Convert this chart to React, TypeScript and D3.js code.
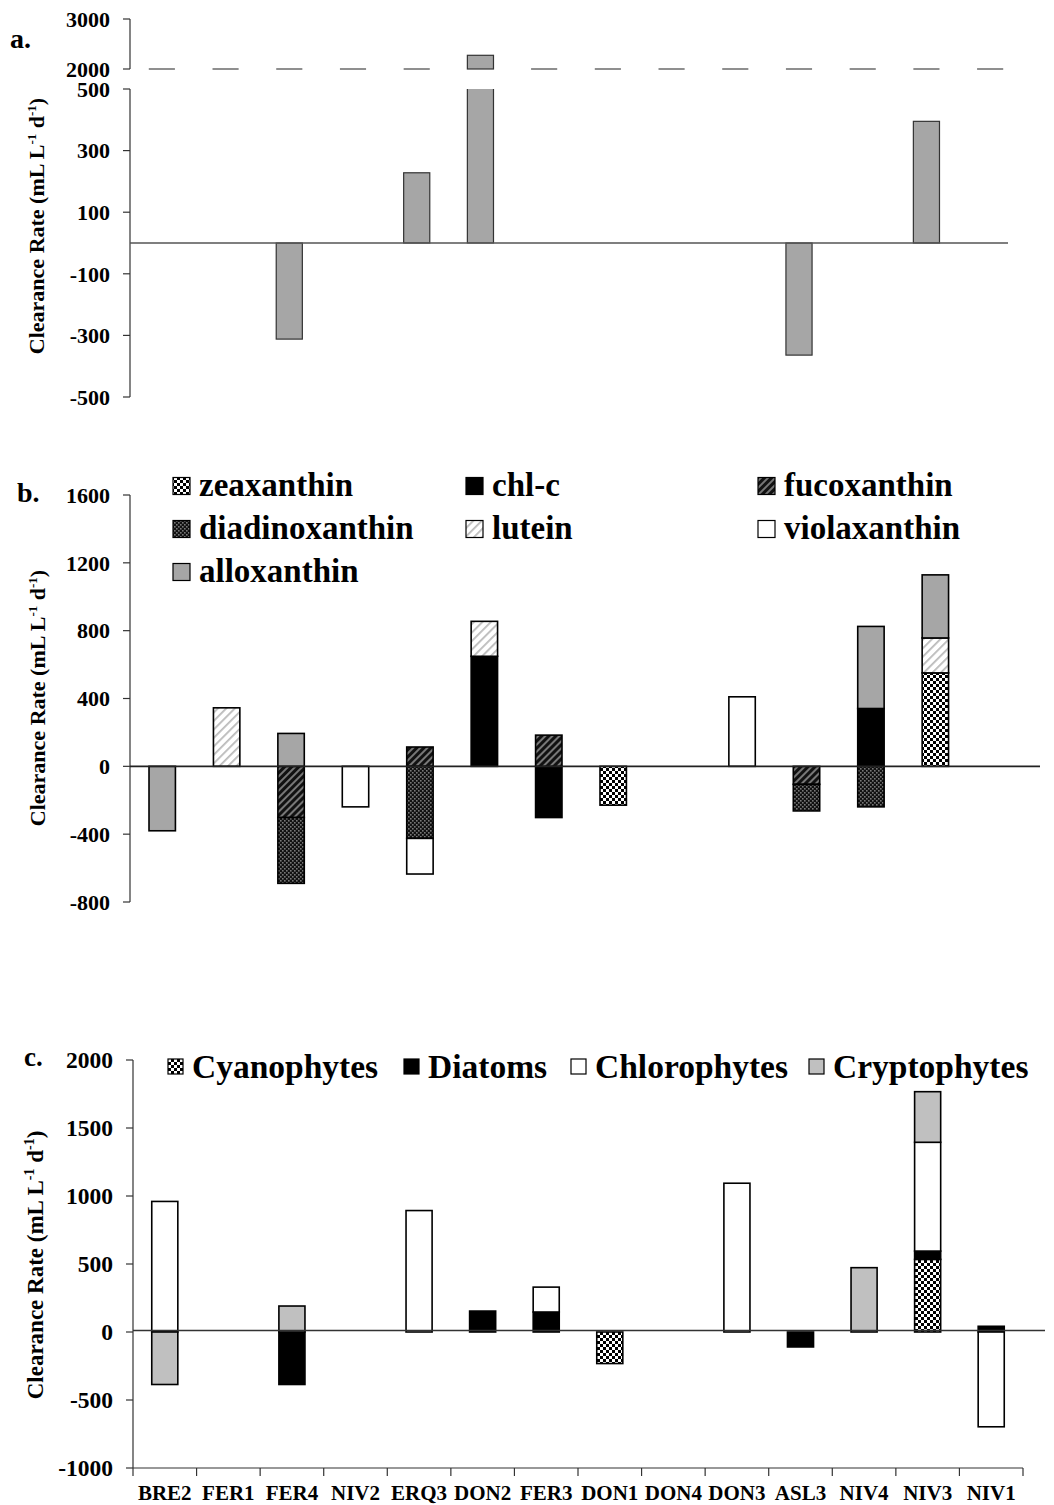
import React from 'react';
import * as d3 from 'd3';

const categories = ['BRE2', 'FER1', 'FER4', 'NIV2', 'ERQ3', 'DON2', 'FER3', 'DON1', 'DON4', 'DON3', 'ASL3', 'NIV4', 'NIV3', 'NIV1'];

// Panel a: total clearance rate
const totalClearance = [0, 0, -312, 0, 228, 2274, 0, 0, 0, 0, -364, 0, 395, 0];
const ticksAUpper = [2000, 3000];
const ticksALower = [-500, -300, -100, 100, 300, 500];

// Panel b: pigments
const zeaxanthin = [0, 0, 0, 0, 0, 0, 0, -229, 0, 0, 0, 0, 551, 0];
const chlC = [0, 0, 0, 0, 0, 649, -302, 0, 0, 0, 0, 341, 0, 0];
const fucoxanthin = [0, 0, -302, 0, 114, 0, 184, 0, 0, 0, -106, 0, 0, 0];
const diadinoxanthin = [0, 0, -388, 0, -425, 0, 0, 0, 0, 0, -157, -239, 0, 0];
const lutein = [0, 345, 0, 0, 0, 206, 0, 0, 0, 0, 0, 0, 206, 0];
const violaxanthin = [0, 0, 0, -239, -210, 0, 0, 0, 0, 410, 0, 0, 0, 0];
const alloxanthin = [-380, 0, 194, 0, 0, 0, 0, 0, 0, 0, 0, 484, 372, 0];
const pigmentNames = ['zeaxanthin', 'chl-c', 'fucoxanthin', 'diadinoxanthin', 'lutein', 'violaxanthin', 'alloxanthin'];
const ticksB = [-800, -400, 0, 400, 800, 1200, 1600];

// Panel c: groups
const cyanophytes = [0, 0, 0, 0, 0, 0, 0, -232, 0, 0, 0, 0, 534, 0];
const diatoms = [0, 0, -386, 0, 0, 154, 147, 0, 0, 0, -110, 0, 61, 42];
const chlorophytes = [960, 0, 0, 0, 893, 0, 183, 0, 0, 1094, 0, 0, 800, -697];
const cryptophytes = [-386, 0, 191, 0, 0, 0, 0, 0, 0, 0, 0, 473, 372, 0];
const groupNames = ['Cyanophytes', 'Diatoms', 'Chlorophytes', 'Cryptophytes'];
const ticksC = [-1000, -500, 0, 500, 1000, 1500, 2000];

const FONT = "'Liberation Serif', 'Times New Roman', serif";

const pigmentFill: Record<string, string> = {
  'zeaxanthin': 'url(#pCheck)',
  'chl-c': '#000',
  'fucoxanthin': 'url(#pFuco)',
  'diadinoxanthin': 'url(#pDiadino)',
  'lutein': 'url(#pLutein)',
  'violaxanthin': '#fff',
  'alloxanthin': '#a6a6a6',
};
const groupFill: Record<string, string> = {
  'Cyanophytes': 'url(#pCheck)',
  'Diatoms': '#000',
  'Chlorophytes': '#fff',
  'Cryptophytes': '#c0c0c0',
};

function buildRows(names: string[], arrays: number[][]) {
  return categories.map((c, i) => {
    const row: any = { cat: c };
    names.forEach((n, k) => { row[n] = arrays[k][i]; });
    return row;
  });
}

function YTitle({ x, y, size }: { x: number; y: number; size: number }) {
  const sup = Math.round(size * 0.6);
  return (
    <text transform={`translate(${x},${y}) rotate(-90)`} textAnchor="middle" fontFamily={FONT} fontWeight="bold" fontSize={size} fill="#000">
      Clearance Rate (mL L<tspan fontSize={sup} dy={-size * 0.38}>-1</tspan><tspan dy={size * 0.38}> d</tspan><tspan fontSize={sup} dy={-size * 0.38}>-1</tspan><tspan dy={size * 0.38}>)</tspan>
    </text>
  );
}

function YAxis({ x, scale, ticks, fontSize, top, bottom }: any) {
  return (
    <g>
      <line x1={x} x2={x} y1={top} y2={bottom} stroke="#333" strokeWidth={1.2} />
      {ticks.map((t: number) => (
        <g key={t}>
          <line x1={x - 7} x2={x} y1={scale(t)} y2={scale(t)} stroke="#333" strokeWidth={1.2} />
          <text x={x - 20} y={scale(t)} dy="0.35em" textAnchor="end" fontFamily={FONT} fontWeight="bold" fontSize={fontSize} fill="#000">{t}</text>
        </g>
      ))}
    </g>
  );
}

function PanelA() {
  const x = d3.scaleBand<string>().domain(categories).range([130, 1022]);
  const yL = d3.scaleLinear().domain([-500, 500]).range([397, 89]);
  const yU = d3.scaleLinear().domain([2000, 3000]).range([69, 19]);
  const bw = x.bandwidth() * 0.41;
  const breakLow = 500;
  const breakHigh = 2000;
  return (
    <g>
      <text x={10} y={48} fontFamily={FONT} fontWeight="bold" fontSize={28}>a.</text>
      <YTitle x={44} y={226} size={22} />
      <YAxis x={130} scale={yU} ticks={ticksAUpper} fontSize={22} top={yU(3000)} bottom={yU(2000)} />
      <YAxis x={130} scale={yL} ticks={ticksALower} fontSize={22} top={yL(500)} bottom={yL(-500)} />
      {categories.map((c, i) => totalClearance[i] > breakLow ? null : (
        <line key={'d' + c} x1={(x(c) as number) + (x.bandwidth() - bw) / 2} x2={(x(c) as number) + (x.bandwidth() + bw) / 2}
          y1={yU(breakHigh)} y2={yU(breakHigh)} stroke="#444" strokeWidth={1.2} />
      ))}
      {categories.map((c, i) => {
        const v = totalClearance[i];
        if (v === 0) return null;
        const x0 = (x(c) as number) + (x.bandwidth() - bw) / 2;
        if (v > breakLow) {
          const yt = yL(breakLow), yb = yL(0);
          return (
            <g key={c}>
              <rect x={x0} y={yt} width={bw} height={yb - yt} fill="#a6a6a6" />
              <path d={`M${x0},${yt}V${yb}H${x0 + bw}V${yt}`} fill="none" stroke="#333" strokeWidth={1.2} />
              <rect x={x0} y={yU(v)} width={bw} height={yU(breakHigh) - yU(v)} fill="#a6a6a6" stroke="#333" strokeWidth={1.2} />
            </g>
          );
        }
        const y0 = Math.min(yL(v), yL(0));
        return <rect key={c} x={x0} y={y0} width={bw} height={Math.abs(yL(v) - yL(0))} fill="#a6a6a6" stroke="#333" strokeWidth={1.2} />;
      })}
      <line x1={130} x2={1008} y1={yL(0)} y2={yL(0)} stroke="#555" strokeWidth={1.3} />
    </g>
  );
}

function StackBars({ names, arrays, fills, x, y }: any) {
  const rows = buildRows(names, arrays);
  const series = d3.stack<any>().keys(names).offset(d3.stackOffsetDiverging)(rows);
  const bw = x.bandwidth() * 0.41;
  const out: any[] = [];
  series.forEach((s: any) => {
    s.forEach((d: any, i: number) => {
      if (d[0] === d[1]) return;
      const c = categories[i];
      const x0 = x(c) + (x.bandwidth() - bw) / 2;
      const ya = y(d[0]), yb = y(d[1]);
      out.push(<rect key={s.key + c} x={x0} y={Math.min(ya, yb)} width={bw} height={Math.abs(ya - yb)} fill={fills[s.key]} stroke="#000" strokeWidth={1.6} />);
    });
  });
  return <g>{out}</g>;
}

function PanelB() {
  const x = d3.scaleBand<string>().domain(categories).range([130, 1032]);
  const y = d3.scaleLinear().domain([-800, 1600]).range([902, 495]);
  const arrays = [zeaxanthin, chlC, fucoxanthin, diadinoxanthin, lutein, violaxanthin, alloxanthin];
  const colX = [173, 466, 758];
  const rowY = [486, 529, 572];
  return (
    <g>
      <text x={17} y={502} fontFamily={FONT} fontWeight="bold" fontSize={28}>b.</text>
      <YTitle x={45} y={698} size={22} />
      <YAxis x={130} scale={y} ticks={ticksB} fontSize={22} top={y(1600)} bottom={y(-800)} />
      <StackBars names={pigmentNames} arrays={arrays} fills={pigmentFill} x={x} y={y} />
      <line x1={130} x2={1040} y1={y(0)} y2={y(0)} stroke="#222" strokeWidth={1.6} />
      {pigmentNames.map((n, k) => {
        const cx = colX[k % 3], cy = rowY[Math.floor(k / 3)];
        return (
          <g key={n}>
            <rect x={cx} y={cy - 8.5} width={17} height={17} fill={pigmentFill[n]} stroke="#000" strokeWidth={1.2} />
            <text x={cx + 26} y={cy + 10} fontFamily={FONT} fontWeight="bold" fontSize={33}>{n}</text>
          </g>
        );
      })}
    </g>
  );
}

function PanelC() {
  const x = d3.scaleBand<string>().domain(categories).range([133, 1023]);
  const y = d3.scaleLinear().domain([-1000, 2000]).range([1468, 1060]);
  const arrays = [cyanophytes, diatoms, chlorophytes, cryptophytes];
  const legX = [168, 404, 571, 809];
  return (
    <g>
      <text x={24} y={1066} fontFamily={FONT} fontWeight="bold" fontSize={27}>c.</text>
      <YTitle x={43} y={1265} size={23} />
      <YAxis x={133} scale={y} ticks={ticksC} fontSize={23.5} top={y(2000)} bottom={y(-1000)} />
      <line x1={133} x2={1023} y1={y(-1000)} y2={y(-1000)} stroke="#333" strokeWidth={1.2} />
      {categories.map((c) => (
        <g key={'t' + c}>
          <line x1={x(c)} x2={x(c)} y1={y(-1000)} y2={y(-1000) + 8} stroke="#333" strokeWidth={1.2} />
          <text x={(x(c) as number) + x.bandwidth() / 2} y={1500} textAnchor="middle" fontFamily={FONT} fontWeight="bold" fontSize={21}>{c}</text>
        </g>
      ))}
      <line x1={1023} x2={1023} y1={y(-1000)} y2={y(-1000) + 8} stroke="#333" strokeWidth={1.2} />
      <StackBars names={groupNames} arrays={arrays} fills={groupFill} x={x} y={y} />
      <line x1={133} x2={1045} y1={y(0) - 1.5} y2={y(0) - 1.5} stroke="#333" strokeWidth={1.6} />
      {groupNames.map((n, k) => (
        <g key={n}>
          <rect x={legX[k]} y={1059} width={15} height={15} fill={groupFill[n]} stroke="#000" strokeWidth={1.2} />
          <text x={legX[k] + 24} y={1078} fontFamily={FONT} fontWeight="bold" fontSize={33.5}>{n}</text>
        </g>
      ))}
    </g>
  );
}

export default function App() {
  return (
    <svg width={1054} height={1505} style={{ position: 'absolute', left: 0, top: 0, background: '#fff' }}>
      <defs>
        <pattern id="pCheck" patternUnits="userSpaceOnUse" width={6} height={6}>
          <rect width={6} height={6} fill="#fff" />
          <rect x={0} y={0} width={3} height={3} fill="#000" />
          <rect x={3} y={3} width={3} height={3} fill="#000" />
        </pattern>
        <pattern id="pFuco" patternUnits="userSpaceOnUse" width={5} height={5} patternTransform="rotate(45)">
          <rect width={5} height={5} fill="#111" />
          <rect x={0} y={0} width={2} height={5} fill="#777" />
        </pattern>
        <pattern id="pDiadino" patternUnits="userSpaceOnUse" width={4} height={4}>
          <rect width={4} height={4} fill="#111" />
          <rect x={0} y={0} width={1.6} height={1.6} fill="#777" />
          <rect x={2} y={2} width={1.6} height={1.6} fill="#777" />
        </pattern>
        <pattern id="pLutein" patternUnits="userSpaceOnUse" width={6} height={6} patternTransform="rotate(45)">
          <rect width={6} height={6} fill="#fff" />
          <rect x={0} y={0} width={1.8} height={6} fill="#bbb" />
        </pattern>
      </defs>
      <rect width={1054} height={1505} fill="#fff" />
      <PanelA />
      <PanelB />
      <PanelC />
    </svg>
  );
}
